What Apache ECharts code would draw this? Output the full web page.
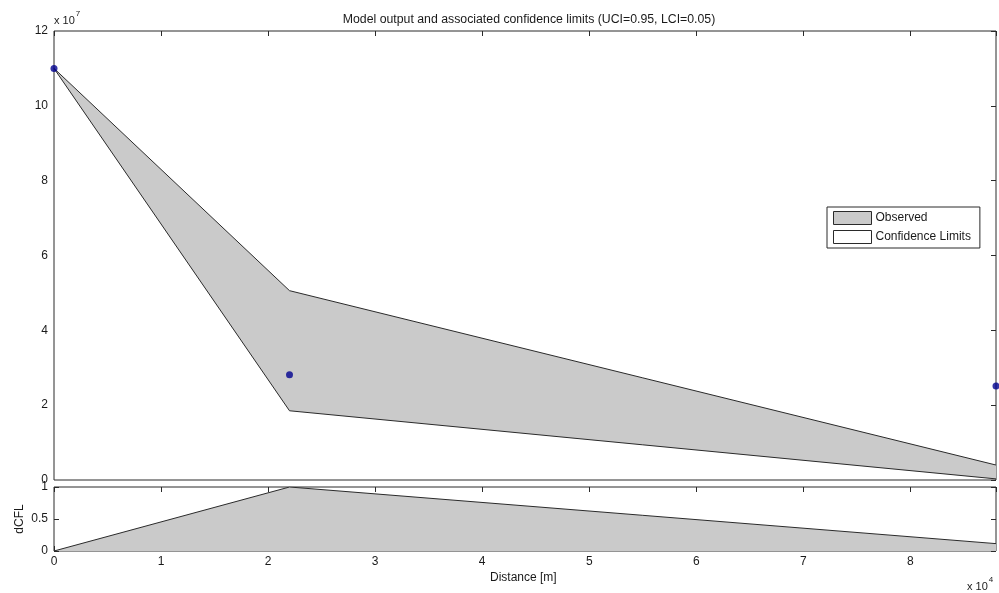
<!DOCTYPE html>
<html>
<head>
<meta charset="utf-8">
<script src="https://cdn.jsdelivr.net/npm/echarts@6/dist/echarts.min.js"></script>
<style>
  html, body { margin: 0; padding: 0; background: #fff; }
  #chart { width: 999px; height: 593px; }
</style>
</head>
<body>
<div id="chart"></div>
<script>
// Model run along the reach: distance [m]
const distance = [0, 22000, 88000];
// Upper and lower confidence limits (UCI=0.95, LCI=0.05)
const upperLimit = [110000000, 50600000, 4000000];
const lowerLimit = [110000000, 18500000, 300000];
// Observed values at the stations
const obsDistance = [0, 22000, 88000];
const observed = [110000000, 28100000, 25100000];
// Normalised confidence band width
const dcfl = [0, 1, 0.115];
// Tick settings
const xTicksMax = 88000;
const xTickStep = 10000;
const yTopMax = 120000000;
const yTopStep = 20000000;
const yBottomTicks = [0, 0.5, 1];

const FONT = 'Liberation Sans';
const TXT = '#1a1a1a';
const FRAME = '#2a2a2a';
const FILL = '#cacaca';

const chart = echarts.init(document.getElementById('chart'), null, { renderer: 'canvas' });

const limitLine = (vals) => distance.map((d, i) => [d, vals[i]]);

const tickInside = { show: true, inside: true, length: 5, lineStyle: { color: FRAME, width: 1 } };
const noTick = { show: false };
const hiddenLine = { show: false, onZero: false };

const option = {
  backgroundColor: '#fff',
  animation: false,
  textStyle: { fontFamily: FONT },
  title: {
    text: 'Model output and associated confidence limits (UCI=0.95, LCI=0.05)',
    left: 524, top: 9, textAlign: 'center',
    textStyle: { fontFamily: FONT, fontSize: 12.3, fontWeight: 'normal', color: TXT }
  },
  legend: {
    orient: 'vertical',
    left: 827, top: 207,
    padding: [4, 9, 4, 6],
    itemGap: 5,
    itemWidth: 38, itemHeight: 13,
    borderColor: FRAME, borderWidth: 1,
    backgroundColor: '#fff',
    selectedMode: false,
    textStyle: { fontFamily: FONT, fontSize: 12, color: TXT, padding: [0, 0, 0, -1] },
    data: [
      { name: 'Observed', icon: 'rect', itemStyle: { color: FILL, borderColor: FRAME, borderWidth: 1 } },
      { name: 'Confidence Limits', icon: 'rect', itemStyle: { color: '#fff', borderColor: FRAME, borderWidth: 1 } }
    ]
  },
  grid: [
    { left: 54, top: 31, width: 942, height: 449, show: true, borderColor: FRAME, borderWidth: 1, backgroundColor: '#fff' },
    { left: 54, top: 487, width: 942, height: 64, show: true, borderColor: FRAME, borderWidth: 1, backgroundColor: '#fff' }
  ],
  xAxis: [
    // upper panel, ticks along the top edge
    { gridIndex: 0, type: 'value', position: 'top', min: 0, max: xTicksMax, interval: xTickStep,
      axisLine: hiddenLine, axisTick: tickInside, axisLabel: { show: false }, splitLine: { show: false } },
    // lower panel, labelled distance axis
    { gridIndex: 1, type: 'value', position: 'bottom', min: 0, max: xTicksMax, interval: xTickStep,
      axisLine: hiddenLine, axisTick: tickInside, splitLine: { show: false },
      axisLabel: { show: true, margin: 5, color: TXT, fontFamily: FONT, fontSize: 12,
        formatter: v => (v / 10000).toString(), showMaxLabel: false } },
    // lower panel, ticks along the top edge
    { gridIndex: 1, type: 'value', position: 'top', min: 0, max: xTicksMax, interval: xTickStep,
      axisLine: hiddenLine, axisTick: tickInside, axisLabel: { show: false }, splitLine: { show: false } }
  ],
  yAxis: [
    { gridIndex: 0, type: 'value', position: 'left', min: 0, max: yTopMax, interval: yTopStep,
      axisLine: hiddenLine, axisTick: noTick, splitLine: { show: false },
      axisLabel: { margin: 6, color: TXT, fontFamily: FONT, fontSize: 12, formatter: v => (v / 1e7).toString() } },
    { gridIndex: 0, type: 'value', position: 'right', min: 0, max: yTopMax, interval: yTopStep,
      axisLine: hiddenLine, axisTick: tickInside, axisLabel: { show: false }, splitLine: { show: false } },
    { gridIndex: 1, type: 'value', position: 'left', min: yBottomTicks[0], max: yBottomTicks[2], interval: yBottomTicks[1],
      axisLine: hiddenLine, axisTick: tickInside, splitLine: { show: false },
      name: 'dCFL', nameLocation: 'middle', nameGap: 28, nameRotate: 90, nameMoveOverlap: false,
      nameTextStyle: { color: TXT, fontFamily: FONT, fontSize: 12 },
      axisLabel: { margin: 6, color: TXT, fontFamily: FONT, fontSize: 12, formatter: v => v.toString() } },
    { gridIndex: 1, type: 'value', position: 'right', min: yBottomTicks[0], max: yBottomTicks[2], interval: yBottomTicks[1],
      axisLine: hiddenLine, axisTick: tickInside, axisLabel: { show: false }, splitLine: { show: false } }
  ],
  graphic: [
    { type: 'text', left: 54, top: 10, z: 10,
      style: { text: '{b|x 10}{s|7}', rich: {
        b: { fontFamily: FONT, fontSize: 11, fill: TXT, verticalAlign: 'bottom', lineHeight: 16 },
        s: { fontFamily: FONT, fontSize: 8, fill: TXT, verticalAlign: 'top', lineHeight: 10, padding: [0, 0, 6, 1] } } } },
    { type: 'text', left: 967, top: 576, z: 10,
      style: { text: '{b|x 10}{s|4}', rich: {
        b: { fontFamily: FONT, fontSize: 11, fill: TXT, verticalAlign: 'bottom', lineHeight: 16 },
        s: { fontFamily: FONT, fontSize: 8, fill: TXT, verticalAlign: 'top', lineHeight: 10, padding: [0, 0, 6, 1] } } } },
    { type: 'text', left: 490, top: 572, z: 10,
      style: { text: 'Distance [m]', fontFamily: FONT, fontSize: 12, fill: TXT } }
  ],
  series: [
    {
      // shaded confidence band
      name: 'Observed',
      type: 'custom',
      xAxisIndex: 0, yAxisIndex: 0,
      z: 2,
      data: [0],
      renderItem: (params, api) => {
        const pts = [];
        distance.forEach((d, i) => pts.push(api.coord([d, upperLimit[i]])));
        for (let i = distance.length - 1; i >= 0; i--) pts.push(api.coord([distance[i], lowerLimit[i]]));
        return { type: 'polygon', shape: { points: pts }, style: { fill: FILL, stroke: null } };
      }
    },
    {
      name: 'Confidence Limits', type: 'line', xAxisIndex: 0, yAxisIndex: 0, z: 3,
      data: limitLine(upperLimit), showSymbol: false, symbol: 'none',
      lineStyle: { color: FRAME, width: 1 }
    },
    {
      name: 'Confidence Limits', type: 'line', xAxisIndex: 0, yAxisIndex: 0, z: 3,
      data: limitLine(lowerLimit), showSymbol: false, symbol: 'none',
      lineStyle: { color: FRAME, width: 1 }
    },
    {
      name: 'stations', type: 'scatter', xAxisIndex: 0, yAxisIndex: 0, z: 5,
      data: obsDistance.map((d, i) => [d, observed[i]]),
      symbol: 'circle', symbolSize: 7, clip: false,
      itemStyle: { color: '#00008f' }
    },
    {
      name: 'dCFL', type: 'line', xAxisIndex: 1, yAxisIndex: 2, z: 3,
      data: distance.map((d, i) => [d, dcfl[i]]), showSymbol: false, symbol: 'none',
      lineStyle: { color: FRAME, width: 1 },
      areaStyle: { color: FILL, opacity: 1 }
    }
  ]
};

chart.setOption(option);
</script>
</body>
</html>
